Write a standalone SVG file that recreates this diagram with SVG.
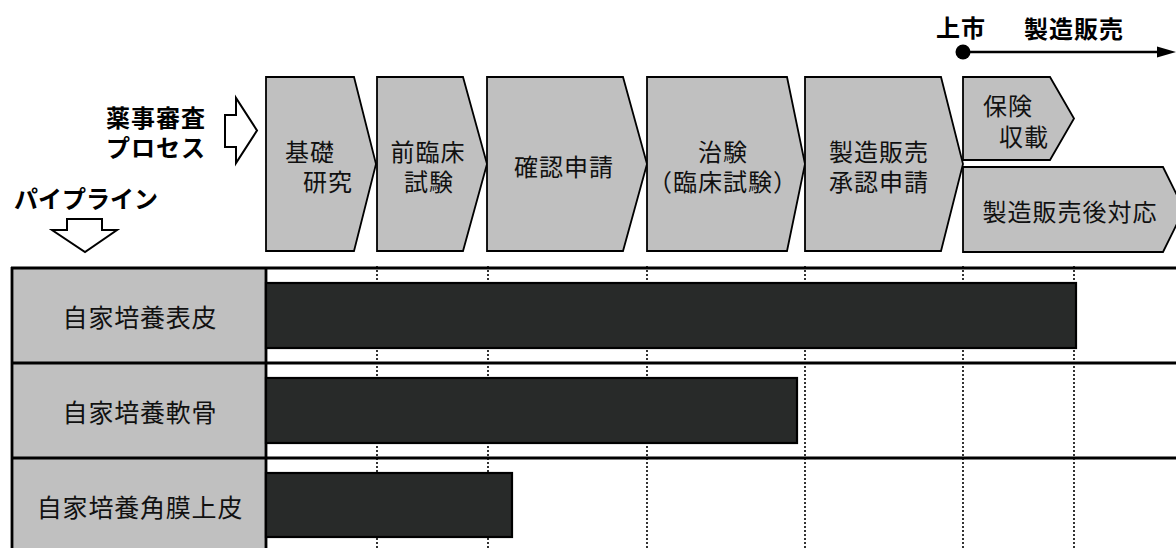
<svg xmlns="http://www.w3.org/2000/svg" width="1176" height="548" viewBox="0 0 1176 548">
<style>
  text { font-family: "Noto Sans CJK JP", "Noto Sans", sans-serif; fill: #111; text-anchor: middle; }
  .t { font-size: 24px; letter-spacing: 1px; }
  .lbl { font-size: 25px; letter-spacing: 0.8px; }
  .b { font-size: 24px; font-weight: bold; letter-spacing: 1px; fill: #000; }
  .step { fill: #c0c0c0; stroke: #000; stroke-width: 1.8; stroke-linejoin: miter; }
  .hollow { fill: #fff; stroke: #000; stroke-width: 2; stroke-linejoin: miter; }
  .grid { stroke: #000; stroke-width: 1.6; stroke-dasharray: 2 2; fill: none; }
  .rule { stroke: #000; stroke-width: 2.8; fill: none; }
  .bar { fill: #282a29; stroke: #000; stroke-width: 2.2; }
</style>
<rect width="1176" height="548" fill="#fff"/>

<!-- top: market launch timeline -->
<g id="market">
  <text class="b" x="961" y="37">上市</text>
  <text class="b" x="1074" y="38">製造販売</text>
  <line x1="963" y1="52" x2="1162" y2="52" stroke="#000" stroke-width="2.5"/>
  <polygon points="1157,46.5 1176,52 1157,57.5" fill="#000"/>
  <circle cx="963" cy="52" r="7.5" fill="#000"/>
</g>

<!-- left labels -->
<g id="process-label">
  <text class="b" x="156" y="127">薬事審査</text>
  <text class="b" x="156" y="157">プロセス</text>
  <polygon class="hollow" points="225,115 236,115 236,98 257,130.5 236,163 236,147 225,147"/>
</g>
<g id="pipeline-label">
  <text class="b" x="86" y="208" style="letter-spacing:0">パイプライン</text>
  <polygon class="hollow" points="67,219 102,219 102,230 117,230 85,252 52,230 67,230"/>
</g>

<!-- table grid -->
<g id="table">
  <rect x="12" y="268" width="254" height="290" fill="#c0c0c0"/>
  <g id="connectors">
    <line class="grid" x1="377" y1="266" x2="377" y2="548"/>
    <line class="grid" x1="488" y1="266" x2="488" y2="548"/>
    <line class="grid" x1="647" y1="266" x2="647" y2="548"/>
    <line class="grid" x1="805" y1="266" x2="805" y2="548"/>
    <line class="grid" x1="963" y1="266" x2="963" y2="548"/>
    <line class="grid" x1="1074" y1="266" x2="1074" y2="548"/>
  </g>
  <line class="rule" x1="11" y1="268" x2="1176" y2="268"/>
  <line class="rule" x1="11" y1="363" x2="1176" y2="363"/>
  <line class="rule" x1="11" y1="458" x2="1176" y2="458"/>
  <line class="rule" x1="12" y1="267" x2="12" y2="548"/>
  <line class="rule" x1="266" y1="267" x2="266" y2="548"/>
</g>

<!-- process steps -->
<g id="step-kiso">
  <polygon class="step" points="266,77 354,77 376,164 354,251 266,251"/>
  <text class="t" x="310" y="161">基礎</text>
  <text class="t" x="328" y="191">研究</text>
</g>
<g id="step-zenrinsho">
  <polygon class="step" points="377,77 463,77 487,164 463,251 377,251"/>
  <text class="t" x="428" y="161">前臨床</text>
  <text class="t" x="429" y="191">試験</text>
</g>
<g id="step-kakunin">
  <polygon class="step" points="487,77 623,77 647,164 623,251 487,251"/>
  <text class="t" x="564" y="176">確認申請</text>
</g>
<g id="step-chiken">
  <polygon class="step" points="647,77 787,77 805,164 787,251 647,251"/>
  <text class="t" x="723" y="161">治験</text>
  <text class="t" x="723" y="191">（臨床試験）</text>
</g>
<g id="step-shonin">
  <polygon class="step" points="805,77 941,77 963,164 941,251 805,251"/>
  <text class="t" x="879" y="161">製造販売</text>
  <text class="t" x="879" y="191">承認申請</text>
</g>
<g id="step-hoken">
  <polygon class="step" points="963,77 1050,77 1074,118.5 1050,160 963,160"/>
  <text class="t" x="1008" y="115">保険</text>
  <text class="t" x="1024" y="146">収載</text>
</g>
<g id="step-postmarket">
  <polygon class="step" points="963,167 1163,167 1184,209.5 1163,252 963,252"/>
  <text class="t" x="1070" y="221">製造販売後対応</text>
</g>

<!-- pipeline rows -->
<g id="row-epidermis">
  <text class="lbl" x="140" y="327">自家培養表皮</text>
  <rect class="bar" x="266" y="283" width="810" height="65"/>
</g>
<g id="row-cartilage">
  <text class="lbl" x="140" y="422">自家培養軟骨</text>
  <rect class="bar" x="266" y="378" width="531" height="65"/>
</g>
<g id="row-corneal">
  <text class="lbl" x="140" y="517">自家培養角膜上皮</text>
  <rect class="bar" x="266" y="473" width="246" height="64"/>
</g>
</svg>
